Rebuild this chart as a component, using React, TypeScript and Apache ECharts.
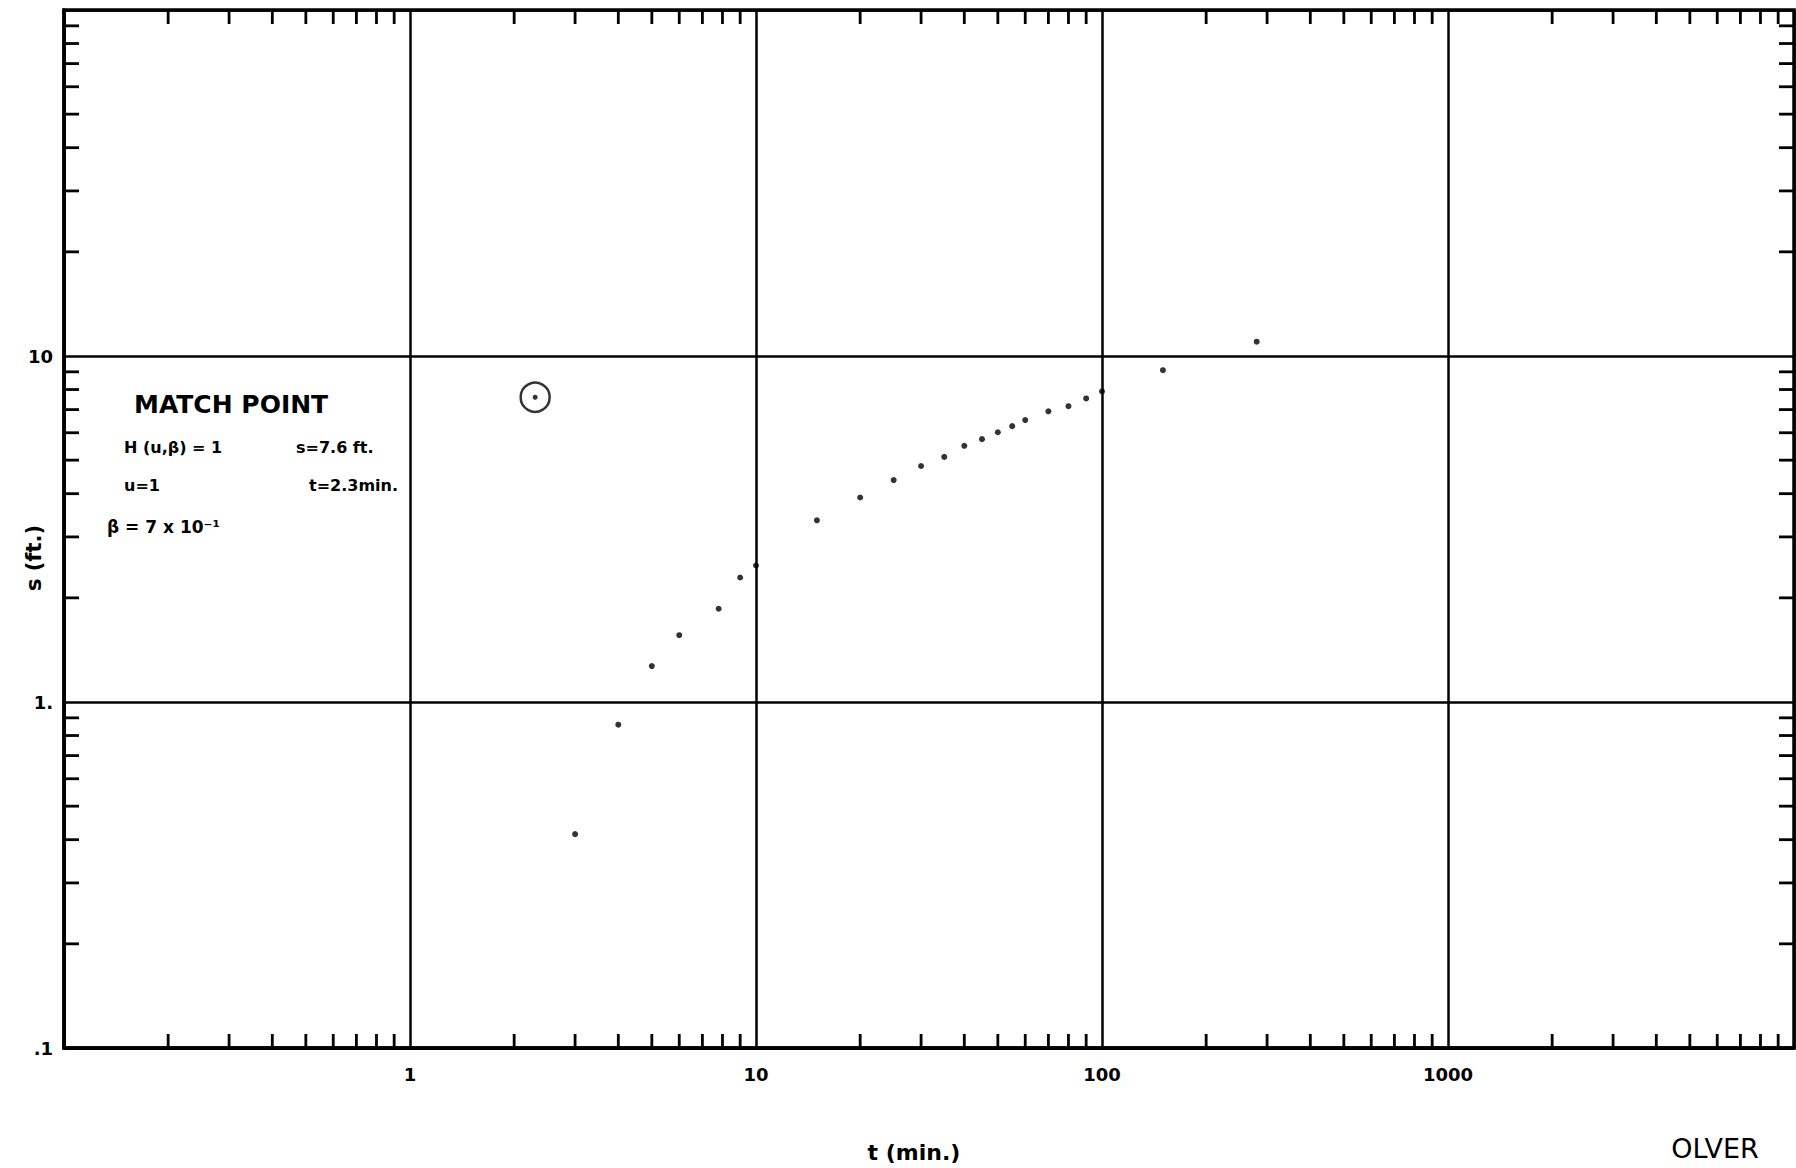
import React, { useEffect, useRef } from "react";
import * as echarts from "echarts";

// ---- data ----
const timeMin = [3, 4, 5, 6, 7.8, 9, 10, 15, 20, 25, 30, 35, 40, 45, 50, 55, 60, 70, 80, 90, 100, 150, 280];
const drawdownFt = [0.415, 0.86, 1.27, 1.56, 1.86, 2.29, 2.48, 3.35, 3.9, 4.38, 4.81, 5.11, 5.5, 5.75, 6.02, 6.27, 6.53, 6.92, 7.16, 7.54, 7.9, 9.1, 11.0];
const matchPointT = [2.3];
const matchPointS = [7.6];

// ---- axis structure ----
const xDecades = [0.1, 1, 10, 100, 1000, 10000];
const xTickLabels = ["", "1", "10", "100", "1000", ""];
const yDecades = [0.1, 1, 10, 100];
const yTickLabels = [".1", "1.", "10", ""];
const minorMultipliers = [2, 3, 4, 5, 6, 7, 8, 9];

const FONT = "DejaVu Sans";
const TICK_X = 14;
const TICK_Y = 15;

function decadeLabel(v: number, decades: number[], labels: string[]) {
  const lv = Math.log10(v);
  for (let i = 0; i < decades.length; i++) {
    if (Math.abs(Math.log10(decades[i]) - lv) < 1e-6) return labels[i];
  }
  return "";
}

function minorTicks(decades: number[]) {
  const out: number[] = [];
  for (let i = 0; i < decades.length - 1; i++) {
    for (const m of minorMultipliers) out.push(+(decades[i] * m).toPrecision(6));
  }
  return out;
}

export default function App() {
  const ref = useRef<HTMLDivElement>(null);

  useEffect(() => {
    if (!ref.current) return;
    const chart = echarts.init(ref.current, undefined, { renderer: "svg" });

    const xMinor = minorTicks(xDecades);
    const yMinor = minorTicks(yDecades);
    const line = { stroke: "#000", lineWidth: 2.8 };

    const option: any = {
      animation: false,
      backgroundColor: "#fff",
      grid: {
        left: 64,
        right: 2,
        top: 10,
        bottom: 120,
        show: true,
        borderColor: "#000",
        borderWidth: 3.5,
        containLabel: false,
        outerBoundsMode: "none",
      },
      xAxis: {
        type: "log",
        logBase: 10,
        min: xDecades[0],
        max: xDecades[xDecades.length - 1],
        splitNumber: 5,
        axisLine: { show: true, onZero: false, lineStyle: { color: "#000", width: 3.5 } },
        axisTick: { show: false },
        axisLabel: {
          show: true,
          margin: 17,
          color: "#000",
          fontSize: 18,
          fontWeight: "bold",
          fontFamily: FONT,
          showMinLabel: true,
          showMaxLabel: true,
          formatter: (v: number) => decadeLabel(v, xDecades, xTickLabels),
        },
        splitLine: { show: true, lineStyle: { color: "#000", width: 2.5 } },
      },
      yAxis: {
        type: "log",
        logBase: 10,
        min: yDecades[0],
        max: yDecades[yDecades.length - 1],
        splitNumber: 3,
        axisLine: { show: true, onZero: false, lineStyle: { color: "#000", width: 3.5 } },
        axisTick: { show: false },
        axisLabel: {
          show: true,
          margin: 11,
          color: "#000",
          fontSize: 18,
          fontWeight: "bold",
          fontFamily: FONT,
          showMinLabel: true,
          showMaxLabel: true,
          formatter: (v: number) => decadeLabel(v, yDecades, yTickLabels),
        },
        splitLine: { show: true, lineStyle: { color: "#000", width: 2.5 } },
      },
      series: [
        {
          type: "custom",
          silent: true,
          encode: { x: 0, y: 1 },
          data: xMinor.map((v) => [v, 1]),
          renderItem: (params: any, api: any) => {
            const x = api.coord([api.value(0), 1])[0];
            const cs = params.coordSys;
            const yb = cs.y + cs.height;
            const yt = cs.y;
            return {
              type: "group",
              children: [
                { type: "line", shape: { x1: x, y1: yb, x2: x, y2: yb - TICK_X }, style: line },
                { type: "line", shape: { x1: x, y1: yt, x2: x, y2: yt + TICK_X }, style: line },
              ],
            };
          },
        },
        {
          type: "custom",
          silent: true,
          encode: { x: 0, y: 1 },
          data: yMinor.map((v) => [1, v]),
          renderItem: (params: any, api: any) => {
            const y = api.coord([1, api.value(1)])[1];
            const cs = params.coordSys;
            const xl = cs.x;
            const xr = cs.x + cs.width;
            return {
              type: "group",
              children: [
                { type: "line", shape: { x1: xl, y1: y, x2: xl + TICK_Y, y2: y }, style: line },
                { type: "line", shape: { x1: xr, y1: y, x2: xr - TICK_Y, y2: y }, style: line },
              ],
            };
          },
        },
        {
          type: "scatter",
          name: "s",
          symbol: "circle",
          symbolSize: 6,
          itemStyle: { color: "#000" },
          data: timeMin.map((t, i) => [t, drawdownFt[i]]),
        },
        {
          type: "scatter",
          name: "match point",
          symbol: "circle",
          symbolSize: 29,
          itemStyle: { color: "rgba(0,0,0,0)", borderColor: "#000", borderWidth: 2.5 },
          data: matchPointT.map((t, i) => [t, matchPointS[i]]),
        },
        {
          type: "scatter",
          name: "match point dot",
          symbol: "circle",
          symbolSize: 5,
          itemStyle: { color: "#000" },
          data: matchPointT.map((t, i) => [t, matchPointS[i]]),
        },
      ],
      graphic: [
        {
          type: "text",
          left: 134,
          top: 392,
          style: { text: "MATCH POINT", fill: "#000", font: `bold 25px '${FONT}'` },
        },
        {
          type: "text",
          left: 124,
          top: 439,
          style: { text: "H (u,β) = 1", fill: "#000", font: `bold 16px '${FONT}'` },
        },
        {
          type: "text",
          left: 296,
          top: 439,
          style: { text: "s=7.6 ft.", fill: "#000", font: `bold 16px '${FONT}'` },
        },
        {
          type: "text",
          left: 124,
          top: 477,
          style: { text: "u=1", fill: "#000", font: `bold 16px '${FONT}'` },
        },
        {
          type: "text",
          left: 309,
          top: 477,
          style: { text: "t=2.3min.", fill: "#000", font: `bold 16px '${FONT}'` },
        },
        {
          type: "text",
          left: 107,
          top: 518,
          style: { text: "β = 7 x 10⁻¹", fill: "#000", font: `bold 17px '${FONT}'` },
        },
        {
          type: "text",
          x: 34,
          y: 558,
          rotation: Math.PI / 2,
          style: {
            text: "s (ft.)",
            fill: "#000",
            font: `bold 21px '${FONT}'`,
            align: "center",
            verticalAlign: "middle",
          },
        },
        {
          type: "text",
          x: 914,
          y: 1152,
          style: {
            text: "t (min.)",
            fill: "#000",
            font: `bold 22px '${FONT}'`,
            align: "center",
            verticalAlign: "middle",
          },
        },
        {
          type: "text",
          x: 1715,
          y: 1148,
          style: {
            text: "OLVER",
            fill: "#000",
            font: `27px '${FONT}'`,
            align: "center",
            verticalAlign: "middle",
          },
        },
      ],
    };

    chart.setOption(option);
    return () => chart.dispose();
  }, []);

  return (
    <div
      ref={ref}
      style={{ position: "fixed", left: 0, top: 0, width: 1796, height: 1168, background: "#fff" }}
    />
  );
}
